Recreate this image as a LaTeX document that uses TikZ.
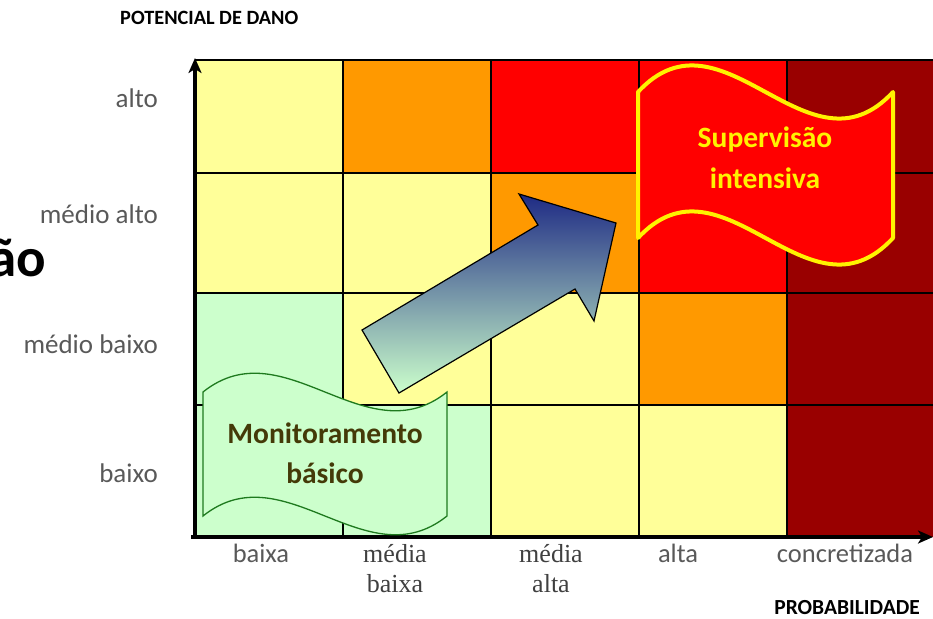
\documentclass[tikz,border=0pt]{standalone}
\usepackage{fontspec}
\setmainfont{Carlito}
\newfontfamily\serifont{Liberation Serif}
\usetikzlibrary{arrows.meta}
\definecolor{cy}{HTML}{FFFF99}
\definecolor{co}{HTML}{FF9900}
\definecolor{cr}{HTML}{FF0000}
\definecolor{cd}{HTML}{990000}
\definecolor{cg}{HTML}{CCFFCC}
\definecolor{lbl}{HTML}{595959}
\definecolor{slbl}{HTML}{404040}
\definecolor{wavegreen}{HTML}{1E7A1E}
\definecolor{olive}{RGB}{68,58,8}
\definecolor{navy}{HTML}{1E2A84}
\definecolor{midgray}{HTML}{8CA89E}
\begin{document}
\begin{tikzpicture}[x=1pt,y=-1pt,
  cell/.style={draw=black,line width=1.4pt},
  axis/.style={line width=3.5pt,-{Stealth[length=15pt,width=13pt,inset=4pt]}},
  ylab/.style={anchor=base east,inner sep=0pt,text=lbl,font=\fontsize{27}{32}\selectfont},
  xlab/.style={anchor=base,inner sep=0pt,text=lbl,font=\fontsize{26.5}{30}\selectfont},
  xslab/.style={anchor=base,inner sep=0pt,text=slbl,align=center,font=\serifont\fontsize{26}{30}\selectfont},
  ttl/.style={inner sep=0pt,font=\bfseries\fontsize{20.3}{24}\selectfont}]
\useasboundingbox (0,0) rectangle (933,618);
% cells: row 1 (alto)
\fill[cy] (195,60) rectangle (343,173);
\fill[co] (343,60) rectangle (491,173);
\fill[cr] (491,60) rectangle (639,173);
\fill[cr] (639,60) rectangle (787,173);
\fill[cd] (787,60) rectangle (935,173);
% row 2 (medio alto)
\fill[cy] (195,173) rectangle (343,293);
\fill[cy] (343,173) rectangle (491,293);
\fill[co] (491,173) rectangle (639,293);
\fill[cr] (639,173) rectangle (787,293);
\fill[cd] (787,173) rectangle (935,293);
% row 3 (medio baixo)
\fill[cg] (195,293) rectangle (343,405);
\fill[cy] (343,293) rectangle (491,405);
\fill[cy] (491,293) rectangle (639,405);
\fill[co] (639,293) rectangle (787,405);
\fill[cd] (787,293) rectangle (935,405);
% row 4 (baixo)
\fill[cg] (195,405) rectangle (343,537);
\fill[cg] (343,405) rectangle (491,537);
\fill[cy] (491,405) rectangle (639,537);
\fill[cy] (639,405) rectangle (787,537);
\fill[cd] (787,405) rectangle (935,537);
% grid lines
\foreach \gx in {343,491,639,787} \draw[cell] (\gx,60) -- (\gx,537);
\foreach \gy in {60,173,293,405} \draw[cell] (195,\gy) -- (935,\gy);
% axes
\coordinate (o) at (195,537);
\coordinate (ytip) at (195,58);
\coordinate (xtip) at (933,537);
\draw[axis] (195,538.5) -- (ytip);
\draw[axis] (191,537) -- (xtip);
% block arrow
\shade[top color=navy,middle color=midgray,bottom color=cg,draw=black,line width=1.2pt,line join=miter]
  (362,330) -- (538,225) -- (519,194) -- (616,223) -- (594,321) -- (575,289) -- (399,393) -- cycle;
% wave: Monitoramento basico
\filldraw[fill=cg,draw=wavegreen,line width=1.3pt]
  (203,392) .. controls (284.3,327) and (365.7,457) .. (447,392)
  -- (447,516) .. controls (365.7,581) and (284.3,451) .. (203,516) -- cycle;
\node[inner sep=0pt,align=center,text=olive,font=\bfseries\fontsize{29.5}{40}\selectfont] (mon) at (325,453) {Monitoramento\\básico};
% wave: Supervisao intensiva
\filldraw[fill=cr,draw=yellow,line width=4pt,line join=round]
  (638,92) .. controls (723,0) and (808,184) .. (893,92)
  -- (893,238) .. controls (808,330) and (723,146) .. (638,238) -- cycle;
\node[inner sep=0pt,align=center,text=yellow,font=\bfseries\fontsize{29.5}{41}\selectfont] (sup) at (765,158) {Supervisão\\intensiva};
% y labels
\node[ylab] (alto) at (158,107) {alto};
\node[ylab] (malto) at (158,223) {médio alto};
\node[ylab] (mbaixo) at (158,353) {médio baixo};
\node[ylab] (baixo) at (158,482) {baixo};
% x labels
\node[xlab] (xbaixa) at (261,562) {baixa};
\node[xslab] (xmb) at (395,592) {média\\baixa};
\node[xslab] (xma) at (551,592) {média\\alta};
\node[xlab] (xalta) at (678,562) {alta};
\node[xlab] (xconc) at (845,562) {concretizada};
% titles
\node[ttl,anchor=base west] (pot) at (120,25) {POTENCIAL DE DANO};
\node[ttl,anchor=base east,font=\bfseries\fontsize{21.5}{24}\selectfont] (prob) at (920,614) {PROBABILIDADE};
\node[inner sep=0pt,anchor=base east,font=\bfseries\fontsize{55}{60}\selectfont] (ao) at (46,276) {ão};
\end{tikzpicture}
\end{document}
